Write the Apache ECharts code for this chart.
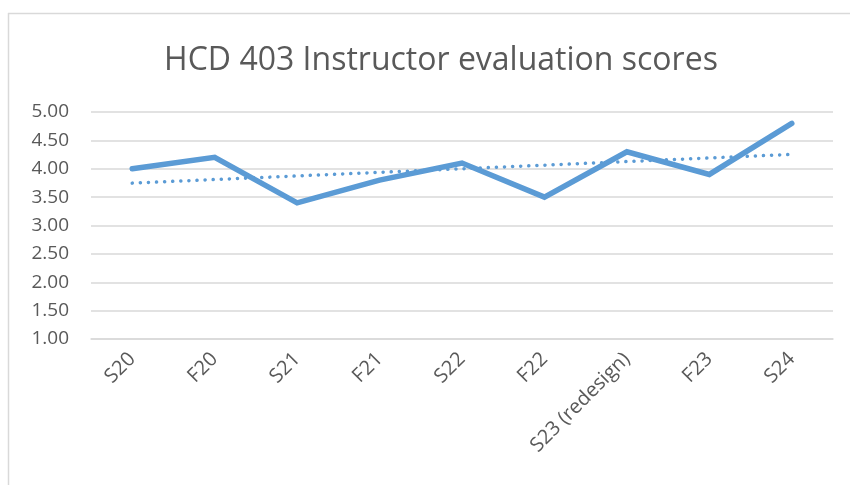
<!DOCTYPE html>
<html>
<head>
<meta charset="utf-8">
<script src="https://cdn.jsdelivr.net/npm/echarts@6/dist/echarts.min.js"></script>
<style>
  html, body { margin: 0; padding: 0; background: #fff; }
  #chart { width: 850px; height: 485px; }
</style>
</head>
<body>
<div id="chart"></div>
<script>
// Terms and average instructor evaluation scores
const terms = ['S20', 'F20', 'S21', 'F21', 'S22', 'F22', 'S23 (redesign)', 'F23', 'S24'];
const scores = [4.0, 4.2, 3.4, 3.8, 4.1, 3.5, 4.3, 3.9, 4.8];
const yTicks = [1.0, 1.5, 2.0, 2.5, 3.0, 3.5, 4.0, 4.5, 5.0];

// Least-squares linear trendline over the scores
function linearTrend(values) {
  const n = values.length;
  const mx = (n - 1) / 2;
  const my = values.reduce((a, b) => a + b, 0) / n;
  let sxy = 0, sxx = 0;
  values.forEach((v, i) => { sxy += (i - mx) * (v - my); sxx += (i - mx) * (i - mx); });
  const slope = sxy / sxx;
  return values.map((_, i) => my + slope * (i - mx));
}
const trend = linearTrend(scores);

const textColor = '#595959';
const lineColor = '#5b9bd5';
const font = 'Open Sans';

const chart = echarts.init(document.getElementById('chart'), null, { renderer: 'canvas' });
chart.setOption({
  animation: false,
  backgroundColor: '#ffffff',
  title: {
    text: 'HCD 403 Instructor evaluation scores',
    left: 436,
    top: 40,
    textAlign: 'center',
    textStyle: { fontFamily: font, fontSize: 32, fontWeight: 'normal', color: textColor }
  },
  graphic: [
    { type: 'line', shape: { x1: 8, y1: 13.5, x2: 850, y2: 13.5 }, style: { stroke: '#d9d9d9', lineWidth: 1.5 } },
    { type: 'line', shape: { x1: 8.5, y1: 13, x2: 8.5, y2: 485 }, style: { stroke: '#d9d9d9', lineWidth: 1.5 } }
  ],
  grid: { left: 91, right: 17, top: 112, height: 227, containLabel: false },
  xAxis: {
    type: 'category',
    data: terms,
    boundaryGap: true,
    axisLine: { show: true, lineStyle: { color: '#d9d9d9', width: 1.5 } },
    axisTick: { show: false },
    axisLabel: {
      rotate: 45,
      interval: 0,
      margin: 17,
      color: textColor,
      fontFamily: font,
      fontSize: 20
    }
  },
  yAxis: {
    type: 'value',
    min: 1,
    max: 5,
    interval: 0.5,
    axisLine: { show: false },
    axisTick: { show: false },
    splitLine: { lineStyle: { color: '#d9d9d9', width: 1.5 } },
    axisLabel: {
      margin: 22,
      color: textColor,
      fontFamily: font,
      fontSize: 19,
      customValues: yTicks,
      formatter: v => v.toFixed(2)
    }
  },
  series: [
    {
      name: 'Score',
      type: 'line',
      data: scores,
      symbol: 'none',
      lineStyle: { color: lineColor, width: 5.5, cap: 'round', join: 'miter' },
      z: 3
    },
    {
      name: 'Linear trend',
      type: 'line',
      data: trend,
      symbol: 'none',
      lineStyle: { color: lineColor, width: 3.5, type: [0.1, 8], cap: 'round' },
      z: 2
    }
  ]
});
</script>
</body>
</html>
